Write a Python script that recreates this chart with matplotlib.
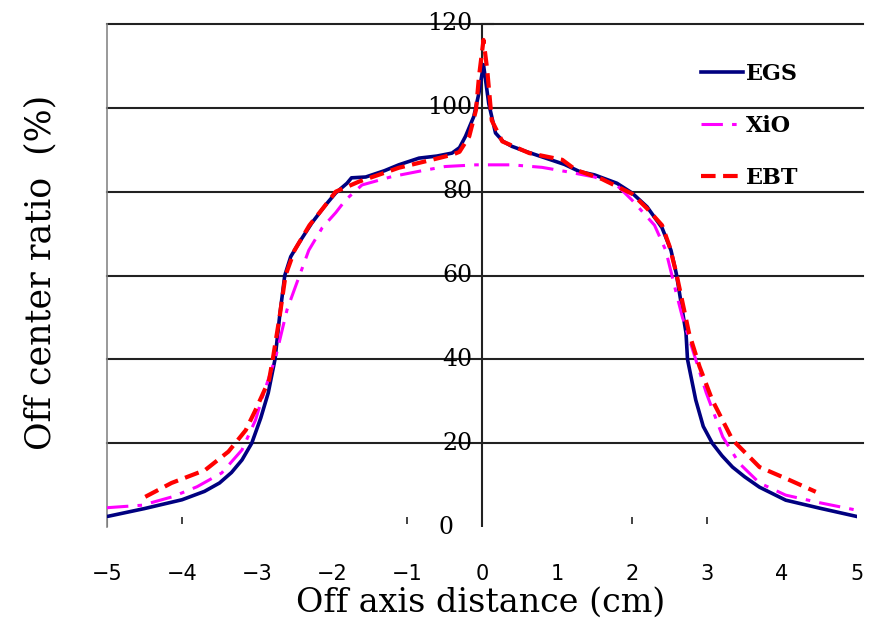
import matplotlib
matplotlib.use("Agg")
import matplotlib.pyplot as plt
import numpy as np

# ---- data ----
egs_x = [-5.0, -4.5, -4.0, -3.7, -3.5, -3.34, -3.2, -3.07, -2.95, -2.85, -2.76, -2.7, -2.63, -2.55, -2.44,
         -2.27, -2.1, -1.95, -1.8, -1.74, -1.55, -1.3, -1.11, -0.84, -0.6, -0.4, -0.3, -0.22, -0.11, -0.04,
         0.02, 0.09, 0.18, 0.28, 0.4, 0.6, 0.85, 1.1, 1.3, 1.5, 1.8, 2.0, 2.2, 2.4, 2.52, 2.59, 2.65,
         2.72, 2.74, 2.85, 2.95, 3.07, 3.2, 3.34, 3.5, 3.7, 4.05, 4.5, 5.0]
egs_y = [2.5, 4.4, 6.5, 8.5, 10.5, 13.0, 16.0, 20.0, 26.0, 32.0, 40.0, 50.0, 60.0, 64.5, 67.8,
         72.5, 76.5, 79.7, 82.0, 83.3, 83.5, 85.0, 86.4, 88.0, 88.5, 89.2, 90.5, 93.2, 97.9, 103.6,
         110.3, 101.0, 94.0, 92.0, 90.8, 89.5, 88.0, 86.5, 84.8, 84.0, 82.0, 79.7, 76.4, 71.4, 66.0, 60.5, 54.0,
         46.3, 40.0, 30.3, 24.0, 20.0, 17.0, 14.3, 12.0, 9.5, 6.4, 4.5, 2.5]

xio_x = [-5.0, -4.53, -4.13, -3.8, -3.47, -3.2, -3.02, -2.94, -2.75, -2.6, -2.47, -2.31, -2.13, -1.95,
         -1.82, -1.6, -1.2, -0.8, -0.49, -0.08, 0.4, 0.8, 1.12, 1.5, 1.8, 2.0, 2.3, 2.45, 2.59, 2.67,
         2.81, 2.99, 3.21, 3.43, 3.7, 4.05, 4.5, 5.0]
xio_y = [4.6, 5.2, 7.2, 9.6, 12.9, 18.4, 25.5, 30.3, 40.6, 51.8, 58.2, 66.0, 71.4, 75.0,
         78.0, 81.6, 83.6, 85.0, 86.0, 86.4, 86.4, 85.8, 84.8, 83.5, 81.5, 78.0, 72.0, 66.0, 55.8, 50.2,
         42.2, 32.0, 21.5, 15.2, 10.5, 7.6, 5.8, 4.0]

ebt_x = [-4.49, -4.14, -3.69, -3.38, -3.15, -3.02, -2.84, -2.79, -2.7, -2.62, -2.5, -2.3, -2.1, -1.95,
         -1.64, -1.3, -1.11, -0.67, -0.4, -0.3, -0.17, -0.08, -0.04, 0.02, 0.07, 0.13, 0.27, 0.63, 1.07,
         1.25, 1.6, 2.0, 2.2, 2.4, 2.5, 2.59, 2.76, 2.9, 3.07, 3.34, 3.7, 4.1, 4.45]
ebt_y = [7.2, 10.5, 13.6, 18.0, 23.1, 27.9, 35.0, 40.0, 50.0, 60.0, 66.0, 72.0, 76.5, 80.0,
         82.4, 84.5, 85.7, 87.6, 88.8, 89.5, 93.2, 99.5, 107.5, 116.2, 109.0, 97.0, 92.0, 89.2, 87.6,
         85.2, 83.0, 79.5, 76.0, 72.0, 67.0, 60.6, 46.3, 38.3, 30.3, 20.8, 14.3, 11.2, 8.4]

x_ticks = [-5, -4, -3, -2, -1, 0, 1, 2, 3, 4, 5]
y_ticks = [0, 20, 40, 60, 80, 100, 120]
grid_levels = [20, 40, 60, 80, 100, 120]
odd_tick_x = [-4, -1, 2, 3]

# ---- figure ----
fig = plt.figure(figsize=(8.69, 6.21), dpi=100)
ax = fig.add_axes([107/869, 1-527/621, (857-107)/869, (527-24)/621])
ax.set_xlim(-5, 5)
ax.set_ylim(0, 120)

for s in ['top', 'right', 'bottom']:
    ax.spines[s].set_visible(False)
ax.spines['left'].set_color('#888888')
ax.spines['left'].set_linewidth(1.2)

for g in grid_levels:
    ax.axhline(g, xmin=0, xmax=1.008, color='#222222', lw=1.5, clip_on=False, zorder=1)
ax.axvline(0, ymin=0, ymax=1, color='#222222', lw=1.5, zorder=1)
ax.plot([0, 0.15], [120, 120], color='#222222', lw=1.5, zorder=1, clip_on=False)
ax.vlines(odd_tick_x, 0.6, 2.4, color='#222222', lw=1.2)
ax.vlines([-5], 0, 2.0, color='#555555', lw=1.5)

ax.plot(egs_x, egs_y, color='#000080', lw=2.6, zorder=3, label='EGS')
ax.plot(xio_x, xio_y, color='#ff00ff', lw=2.2, zorder=4, dashes=(7, 3, 1.5, 3), label='XiO')
ax.plot(ebt_x, ebt_y, color='#ff0000', lw=3.0, zorder=5, dashes=(3.5, 1.8), label='EBT')

ax.set_xticks(x_ticks)
ax.set_xticklabels(['\u2212%d' % -v if v < 0 else str(v) for v in x_ticks],
                   family='DejaVu Sans', fontsize=15)
ax.tick_params(axis='x', length=0, pad=27)
ax.set_yticks([])

for v in y_ticks:
    if v == 0:
        ax.text(-0.38, v, str(v), ha='right', va='center', fontsize=17, family='DejaVu Serif')
    else:
        ax.text(-0.13, v, str(v), ha='right', va='center', fontsize=17, family='DejaVu Serif')

leg = ax.legend(loc='upper left', bbox_to_anchor=(0.765, 0.962), frameon=False,
                prop={'family': 'DejaVu Serif', 'size': 16, 'weight': 'bold'},
                handlelength=1.9, handletextpad=0.15, labelspacing=1.35)

fig.text(40/869, 1-272/621, 'Off center ratio  (%)', rotation=90, ha='center', va='center',
         fontsize=25, family='DejaVu Serif')
fig.text(481/869, 1-603/621, 'Off axis distance (cm)', ha='center', va='center',
         fontsize=24, family='DejaVu Serif')

fig.savefig('out.png', dpi=100)
